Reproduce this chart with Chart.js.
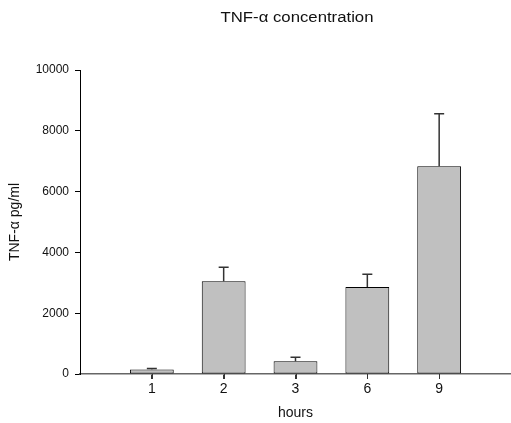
<!DOCTYPE html>
<html>
<head>
<meta charset="utf-8">
<script src="https://cdn.jsdelivr.net/npm/chart.js@4.4.1/dist/chart.umd.min.js"></script>
<style>
  html, body { margin: 0; padding: 0; background: #fff; overflow: hidden; }
</style>
</head>
<body>
<canvas id="tnfChart" width="511" height="423"></canvas>
<script>
const hours = ['1', '2', '3', '6', '9'];
const tnfMean = [150, 3050, 420, 2860, 6830];
const tnfErr = [30, 460, 130, 420, 1730];
const yTicks = [0, 2000, 4000, 6000, 8000, 10000];

// blank slot on each side so the bars sit one step in from the axis ends
const labels = [''].concat(hours, ['']);
const values = [null].concat(tnfMean, [null]);
const errors = [null].concat(tnfErr, [null]);

Chart.defaults.font.family = '"Liberation Sans", Arial, sans-serif';
Chart.defaults.font.size = 12;
Chart.defaults.color = '#111';

const errorBars = {
  id: 'errorBars',
  afterDatasetsDraw(chart) {
    const { ctx, scales: { y } } = chart;
    const meta = chart.getDatasetMeta(0);
    ctx.save();
    ctx.strokeStyle = '#333';
    ctx.lineWidth = 1.5;
    meta.data.forEach((bar, i) => {
      if (values[i] == null) return;
      const top = y.getPixelForValue(values[i] + errors[i]);
      ctx.beginPath();
      ctx.moveTo(bar.x, bar.y);
      ctx.lineTo(bar.x, top);
      ctx.moveTo(bar.x - 5, top);
      ctx.lineTo(bar.x + 5, top);
      ctx.stroke();
    });
    ctx.restore();
  },
};

// small tick marks under the x axis at each hour
const xTickMarks = {
  id: 'xTickMarks',
  afterDraw(chart) {
    const { ctx, chartArea, scales: { x } } = chart;
    ctx.save();
    ctx.strokeStyle = '#333';
    ctx.lineWidth = 1;
    hours.forEach((h, i) => {
      const px = Math.round(x.getPixelForValue(i + 1)) + 0.5;
      ctx.beginPath();
      ctx.moveTo(px, chartArea.bottom);
      ctx.lineTo(px, chartArea.bottom + 5);
      ctx.stroke();
    });
    ctx.restore();
  },
};

// title over the plot area, a little wider than plain 14px text like the original
const plotTitle = {
  id: 'plotTitle',
  afterDraw(chart) {
    const { ctx } = chart;
    const text = 'TNF-α concentration';
    ctx.save();
    ctx.font = '14px "Liberation Sans", Arial, sans-serif';
    ctx.fillStyle = '#111';
    ctx.textAlign = 'center';
    ctx.textBaseline = 'alphabetic';
    const w = ctx.measureText(text).width;
    ctx.translate(297, 22);
    ctx.scale(153 / w, 1);
    ctx.fillText(text, 0, 0);
    ctx.restore();
  },
};

const config = {
  type: 'bar',
  data: {
    labels: labels,
    datasets: [
      {
        label: 'TNF-α',
        data: values,
        backgroundColor: '#c0c0c0',
        borderColor: '#000',
        borderWidth: 1,
        borderSkipped: false,
        barPercentage: 0.61,
        categoryPercentage: 1,
      },
    ],
  },
  options: {
    responsive: false,
    animation: false,
    layout: { padding: { top: 70, left: 0, right: -3, bottom: 0 } },
    plugins: {
      legend: { display: false },
      tooltip: { enabled: false },
      title: { display: false },
    },
    scales: {
      x: {
        offset: false,
        grid: {
          offset: false,
          drawOnChartArea: false,
          drawTicks: true,
          tickLength: 5,
          color: (c) => (c.index === 0 || c.index === labels.length - 1 ? 'rgba(0,0,0,0)' : '#333'),
        },
        border: { color: '#666', width: 1.5 },
        ticks: { padding: 2, maxRotation: 0, autoSkip: false, font: { size: 14 } },
        title: { display: true, text: 'hours', font: { size: 14 }, padding: { top: 4, bottom: 1 } },
        afterFit(scale) {
          scale.height = 49;
          scale.paddingRight = -3;
        },
      },
      y: {
        min: 0,
        max: 10000,
        afterBuildTicks(scale) { scale.ticks = yTicks.map((v) => ({ value: v })); },
        grid: { drawOnChartArea: false, drawTicks: true, tickLength: 5, color: '#000' },
        border: { color: '#000', width: 1 },
        ticks: { padding: 6, callback: (v) => String(v) },
        title: { display: true, text: 'TNF-α pg/ml', font: { size: 14 }, padding: { top: 7, bottom: 0 } },
        afterFit(scale) { scale.width = 80; },
      },
    },
  },
  plugins: [errorBars, xTickMarks, plotTitle],
};

const tnfChart = new Chart(document.getElementById('tnfChart'), config);
</script>
</body>
</html>
